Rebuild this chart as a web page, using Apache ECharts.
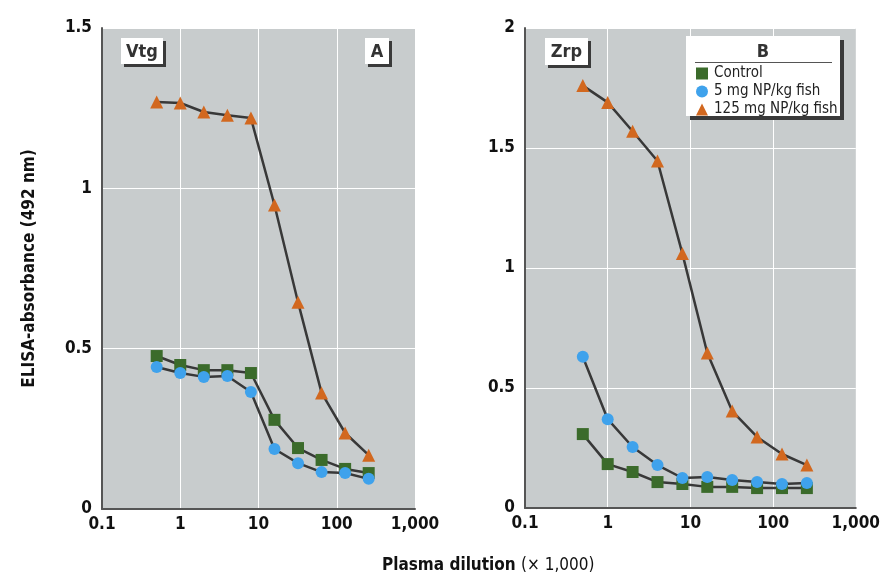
<!DOCTYPE html>
<html>
<head>
<meta charset="utf-8">
<style>html,body{margin:0;padding:0;background:#fff;}#c{width:883px;height:575px;}</style>
<script src="https://cdn.jsdelivr.net/npm/echarts@6/dist/echarts.min.js"></script>
</head>
<body>
<div id="c"></div>
<script>
// ---- data ----
var dilution = [0.5, 1, 2, 4, 8, 16, 32, 64, 128, 256];
var seriesNames = ['Control', '5 mg NP/kg fish', '125 mg NP/kg fish'];
var vtgControl = [0.477, 0.449, 0.433, 0.433, 0.424, 0.278, 0.19, 0.153, 0.125, 0.112];
var vtg5mg     = [0.443, 0.424, 0.412, 0.415, 0.365, 0.187, 0.143, 0.115, 0.112, 0.094];
var vtg125mg   = [1.269, 1.266, 1.238, 1.228, 1.219, 0.948, 0.645, 0.362, 0.237, 0.168];
var zrpControl = [0.308, 0.183, 0.15, 0.108, 0.1, 0.088, 0.088, 0.083, 0.083, 0.083];
var zrp5mg     = [0.63, 0.37, 0.254, 0.179, 0.125, 0.129, 0.117, 0.108, 0.1, 0.104];
var zrp125mg   = [1.76, 1.69, 1.57, 1.446, 1.06, 0.646, 0.404, 0.296, 0.225, 0.179];
var xTicks = [0.1, 1, 10, 100, 1000];
var yTicksA = [0, 0.5, 1, 1.5];
var yTicksB = [0, 0.5, 1, 1.5, 2];

var FONT = '"Liberation Sans Narrow", "DejaVu Sans Condensed", "Roboto Condensed", Roboto, sans-serif';
var symbols = ['rect', 'circle', 'triangle'];
var colors = ['#3b6b2b', '#3fa2ec', '#d2681f'];

function pairs(ys) { return dilution.map(function (d, i) { return [d, ys[i]]; }); }
function xLabel(v) {
  if (v >= 1000) return '1,000';
  return String(+Number(v).toPrecision(3));
}

function mkX(idx) {
  return {
    type: 'log', logBase: 10, min: 0.1, max: 1000, gridIndex: idx,
    axisLine: { show: true, lineStyle: { color: '#555', width: 2 } },
    axisTick: { show: false },
    minorTick: { show: false },
    axisLabel: { formatter: xLabel, color: '#111', fontFamily: FONT, fontWeight: 'bold', fontSize: 17, margin: 7 },
    splitLine: { show: true, lineStyle: { color: '#ffffff', width: 1 } }
  };
}
function mkY(idx, max, extra) {
  var o = {
    type: 'value', min: 0, max: max, interval: 0.5, gridIndex: idx,
    axisLine: { show: true, lineStyle: { color: '#555', width: 2 } },
    axisTick: { show: false },
    axisLabel: { formatter: function (v) { return String(v); }, color: '#111', fontFamily: FONT, fontWeight: 'bold', fontSize: 17, margin: 10 },
    splitLine: { show: true, lineStyle: { color: '#ffffff', width: 1 } }
  };
  for (var k in extra) o[k] = extra[k];
  return o;
}
function mkSeries(name, k, ys, idx) {
  return {
    name: name, type: 'line', xAxisIndex: idx, yAxisIndex: idx,
    data: pairs(ys), symbol: symbols[k], symbolSize: k === 2 ? 13 : 12,
    itemStyle: { color: colors[k] },
    lineStyle: { color: '#383838', width: 2.5 },
    showAllSymbol: true, animation: false, z: 2 + k
  };
}

function labelBox(x, y, w, h, text) {
  return [
    { type: 'rect', shape: { x: x + 3, y: y + 3, width: w, height: h }, style: { fill: '#3a3a3a' }, z: 10 },
    { type: 'rect', shape: { x: x, y: y, width: w, height: h }, style: { fill: '#ffffff' }, z: 11 },
    { type: 'text', x: x + w / 2, y: y + h / 2 + 1, style: { text: text, fill: '#333', font: 'bold 18px ' + FONT, textAlign: 'center', textVerticalAlign: 'middle' }, z: 12 }
  ];
}

var graphics = [].concat(
  labelBox(121, 38, 42, 26, 'Vtg'),
  labelBox(365, 38, 24, 26, 'A'),
  labelBox(545, 38, 43, 27, 'Zrp'),
  [
    { type: 'rect', shape: { x: 690, y: 40, width: 154, height: 80 }, style: { fill: '#3a3a3a' }, z: 10 },
    { type: 'rect', shape: { x: 686, y: 36, width: 154, height: 80 }, style: { fill: '#ffffff' }, z: 11 },
    { type: 'text', x: 763, y: 52, style: { text: 'B', fill: '#333', font: 'bold 18px ' + FONT, textAlign: 'center', textVerticalAlign: 'middle' }, z: 12 },
    { type: 'line', shape: { x1: 695, y1: 62.5, x2: 832, y2: 62.5 }, style: { stroke: '#555', lineWidth: 1 }, z: 12 },
    { type: 'text', x: 382, y: 566, style: { text: '{b|Plasma dilution }{n|(× 1,000)}', rich: { b: { font: 'bold 17px ' + FONT, fill: '#111' }, n: { font: '17px ' + FONT, fill: '#111' } }, textVerticalAlign: 'middle' }, z: 12 }
  ]
);

var chart = echarts.init(document.getElementById('c'), null, { renderer: 'canvas' });
chart.setOption({
  animation: false,
  backgroundColor: '#ffffff',
  grid: [
    { left: 102, top: 28, width: 313, height: 481, show: true, backgroundColor: '#c8cccd', borderWidth: 0 },
    { left: 525, top: 28, width: 338, height: 480, show: true, backgroundColor: '#c8cccd', borderWidth: 0 }
  ],
  xAxis: [mkX(0), mkX(1)],
  yAxis: [
    mkY(0, 1.5, { name: 'ELISA-absorbance (492 nm)', nameLocation: 'middle', nameGap: 64, nameRotate: 90,
      nameTextStyle: { color: '#111', fontFamily: FONT, fontWeight: 'bold', fontSize: 17 } }),
    mkY(1, 2, {})
  ],
  legend: {
    show: true, orient: 'vertical', left: 696, top: 66, padding: 0, itemWidth: 12, itemHeight: 12, itemGap: 3,
    textStyle: { color: '#222', fontFamily: FONT, fontSize: 15, lineHeight: 15, padding: [0, 0, 0, 1] },
    data: seriesNames.map(function (n, k) { return { name: n, icon: symbols[k] }; }),
    selectedMode: false, z: 20
  },
  series: [
    mkSeries(seriesNames[0], 0, vtgControl, 0),
    mkSeries(seriesNames[1], 1, vtg5mg, 0),
    mkSeries(seriesNames[2], 2, vtg125mg, 0),
    mkSeries(seriesNames[0], 0, zrpControl, 1),
    mkSeries(seriesNames[1], 1, zrp5mg, 1),
    mkSeries(seriesNames[2], 2, zrp125mg, 1)
  ],
  graphic: graphics
});
</script>
</body>
</html>
